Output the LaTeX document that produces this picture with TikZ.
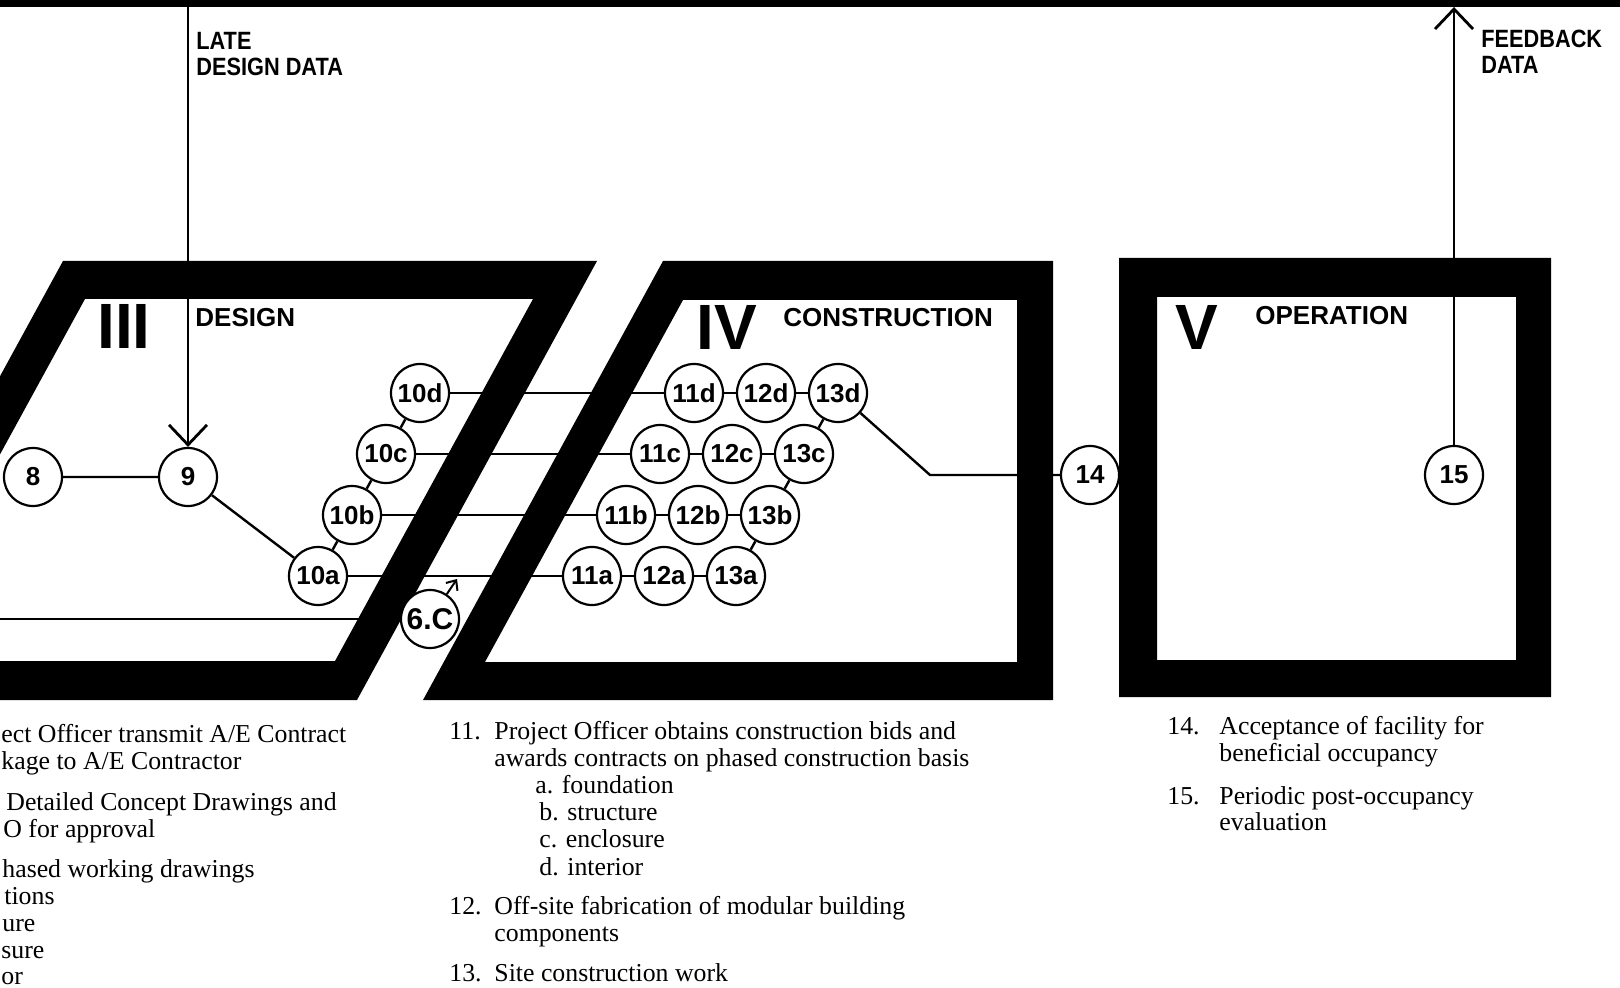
\documentclass[tikz,border=0pt]{standalone}
\usepackage{fontspec}
\setmainfont{Liberation Serif}
\newfontfamily\letfont{Liberation Sans}
\usetikzlibrary{arrows.meta}
\tikzset{
    stepnode/.style={circle, draw=black, fill=white, line width=1.1pt, minimum size=29pt, inner sep=0pt, font=\letfont\bfseries\fontsize{13}{13}\selectfont},
    flow/.style={line width=1.2pt},
    flowarr/.style={line width=1.4pt, -{Straight Barb[length=10pt, width=19pt, line width=1.4pt]}},
    smallarr/.style={line width=1pt, -{Straight Barb[length=4pt, width=7pt]}},
    band/.style={fill=black, even odd rule},
    phasenum/.style={font=\letfont\bfseries\fontsize{32}{32}\selectfont, inner sep=0pt, anchor=base west},
    phasename/.style={font=\letfont\bfseries\fontsize{13}{13}\selectfont, inner sep=0pt, anchor=base west},
    datalbl/.style={font=\letfont\bfseries\fontsize{12.5}{13}\selectfont, inner sep=0pt, anchor=base west, xscale=0.87},
    desc/.style={font=\fontsize{12.9}{13.5}\selectfont, inner sep=0pt, anchor=base west}
}
\begin{document}
\begin{tikzpicture}[x=0.5pt, y=-0.5pt]
        \useasboundingbox (0,0) rectangle (1620,988);
        \fill[white] (0,0) rectangle (1620,988);
        \clip (0,0) rectangle (1620,988);
        \fill (0,0) rectangle (1620,7);
        \fill[band] (63,261) -- (597,261) -- (357,700) -- (-177,700) -- cycle
                    (85,299) -- (533,299) -- (335,661) -- (-113,661) -- cycle;
        \fill[band] (663,261) -- (1053,261) -- (1053,700) -- (423,700) -- cycle
                    (683,300) -- (1017,300) -- (1017,662) -- (485,662) -- cycle;
        \fill[band] (1119,258) rectangle (1551,697) (1157,297) rectangle (1516,660);

        \coordinate (ltop) at (188,7);
        \coordinate (ftop) at (1454,7);
        \coordinate (lin)  at (-10,619);
        \coordinate (bend) at (930,475);
        \coordinate (c6tip) at (457,579);

        \node[datalbl] (latelbl) at (196,50) {LATE};
        \node[datalbl] (latelbl2) at (196,76) {DESIGN DATA};
        \node[datalbl] (fblbl) at (1481,48) {FEEDBACK};
        \node[datalbl] (fblbl2) at (1481,74) {DATA};

        \node[phasenum]  (ph3)   at (97,349)  {III};
        \node[phasename] (ph3n)  at (195,327) {DESIGN};
        \node[phasenum]  (ph4)   at (696,350) {IV};
        \node[phasename] (ph4n)  at (783,327) {CONSTRUCTION};
        \node[phasenum]  (ph5)   at (1175,350) {V};
        \node[phasename] (ph5n)  at (1255,325) {OPERATION};

        \node[stepnode] (n8)   at (33,477)  {8};
        \node[stepnode] (n9)   at (188,477) {9};
        \node[stepnode] (n10a) at (318,576) {10a};
        \node[stepnode] (n10b) at (352,515) {10b};
        \node[stepnode] (n10c) at (386,454) {10c};
        \node[stepnode] (n10d) at (420,393) {10d};
        \node[stepnode] (n11a) at (592,576) {11a};
        \node[stepnode] (n12a) at (664,576) {12a};
        \node[stepnode] (n13a) at (736,576) {13a};
        \node[stepnode] (n11b) at (626,515) {11b};
        \node[stepnode] (n12b) at (698,515) {12b};
        \node[stepnode] (n13b) at (770,515) {13b};
        \node[stepnode] (n11c) at (660,454) {11c};
        \node[stepnode] (n12c) at (732,454) {12c};
        \node[stepnode] (n13c) at (804,454) {13c};
        \node[stepnode] (n11d) at (694,393) {11d};
        \node[stepnode] (n12d) at (766,393) {12d};
        \node[stepnode] (n13d) at (838,393) {13d};
        \node[stepnode, font=\letfont\bfseries\fontsize{15}{15}\selectfont] (n6c) at (430,619) {6.C};
        \node[stepnode] (n14)  at (1090,475) {14};
        \node[stepnode] (n15)  at (1454,475) {15};

        \draw[flowarr] (ltop) -- (n9);
        \draw[flowarr] (n15) -- (ftop);
        \draw[flow] (n8) -- (n9) -- (n10a);
        \draw[flow] (n10a) -- (n10b) -- (n10c) -- (n10d);
        \draw[flow] (n10a) -- (n11a) -- (n12a) -- (n13a);
        \draw[flow] (n10b) -- (n11b) -- (n12b) -- (n13b);
        \draw[flow] (n10c) -- (n11c) -- (n12c) -- (n13c);
        \draw[flow] (n10d) -- (n11d) -- (n12d) -- (n13d);
        \draw[flow] (n13a) -- (n13b) -- (n13c) -- (n13d);
        \draw[flow] (n13d) -- (bend) -- (n14);
        \draw[flow] (lin) -- (n6c);
        \draw[smallarr] (n6c) -- (c6tip);

        \node[desc] (l1) at (1,742)   {ect Officer transmit A/E Contract};
        \node[desc] (l2) at (1,769)   {kage to A/E Contractor};
        \node[desc] (l3) at (6,810)   {Detailed Concept Drawings and};
        \node[desc] (l4) at (3,837)   {O for approval};
        \node[desc] (l5) at (2,877)   {hased working drawings};
        \node[desc] (l6) at (4,904)   {tions};
        \node[desc] (l7) at (2,931)   {ure};
        \node[desc] (l8) at (1,958)   {sure};
        \node[desc] (l9) at (1,984)   {or};

        \node[desc] (m11)  at (449,739) {11.};
        \node[desc] (m11a) at (494,739) {Project Officer obtains construction bids and};
        \node[desc] (m11b) at (494,766) {awards contracts on phased construction basis};
        \node[desc] (m11c) at (535,793) {a. foundation};
        \node[desc] (m11d) at (539,820) {b. structure};
        \node[desc] (m11e) at (539,847) {c. enclosure};
        \node[desc] (m11f) at (539,875) {d. interior};
        \node[desc] (m12)  at (449,914) {12.};
        \node[desc] (m12a) at (494,914) {Off-site fabrication of modular building};
        \node[desc] (m12b) at (494,941) {components};
        \node[desc] (m13)  at (449,981) {13.};
        \node[desc] (m13a) at (494,981) {Site construction work};

        \node[desc] (r14)  at (1167,734) {14.};
        \node[desc] (r14a) at (1219,734) {Acceptance of facility for};
        \node[desc] (r14b) at (1219,761) {beneficial occupancy};
        \node[desc] (r15)  at (1167,804) {15.};
        \node[desc] (r15a) at (1219,804) {Periodic post-occupancy};
        \node[desc] (r15b) at (1219,830) {evaluation};
        \end{tikzpicture}
\end{document}
